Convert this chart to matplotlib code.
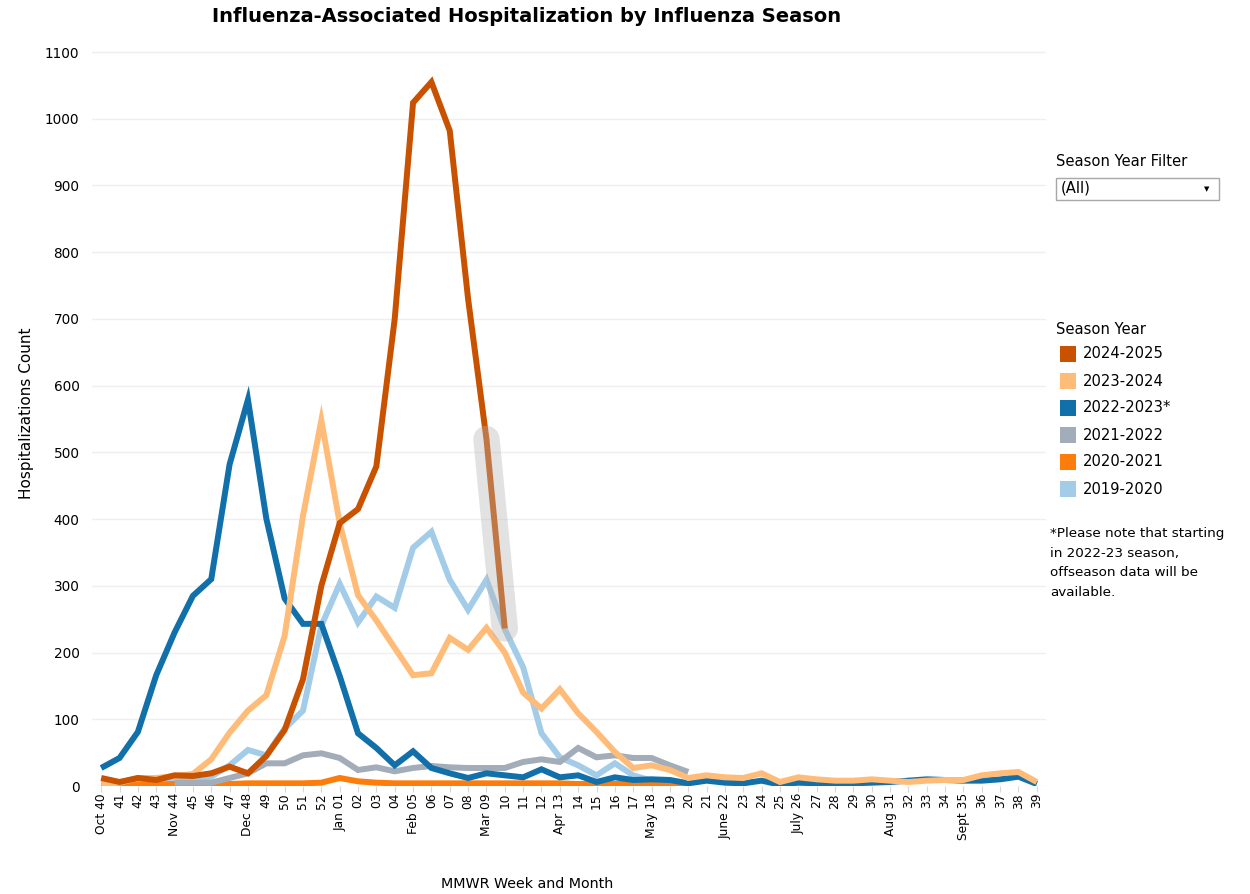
import numpy as np
import matplotlib
matplotlib.use("Agg")
import matplotlib.pyplot as plt
from matplotlib.patches import Rectangle

plt.rcParams['font.family'] = ['DejaVu Sans']

nan = np.nan

week_labels = ["Oct 40", "41", "42", "43", "Nov 44", "45", "46", "47", "Dec 48", "49",
               "50", "51", "52", "Jan 01", "02", "03", "04", "Feb 05", "06", "07",
               "08", "Mar 09", "10", "11", "12", "Apr 13", "14", "15", "16", "17",
               "May 18", "19", "20", "21", "June 22", "23", "24", "25", "July 26", "27",
               "28", "29", "30", "Aug 31", "32", "33", "34", "Sept 35", "36", "37",
               "38", "39"]

seasons = ["2024-2025", "2023-2024", "2022-2023*", "2021-2022", "2020-2021", "2019-2020"]
colors = ["#C85200", "#FFBC79", "#1170AA", "#A3ACB9", "#FC7D0B", "#A3CCE9"]

s2425 = [12, 6, 12, 9, 16, 15, 19, 29, 19, 45, 84, 160, 300, 394, 415, 479, 700, 1024,
         1055, 982, 730, 520, 236] + [nan] * 29
s2324 = [3, 5, 12, 12, 15, 18, 40, 80, 113, 136, 225, 405, 548, 394, 286, 248, 207, 166,
         169, 222, 204, 237, 200, 140, 116, 145, 109, 81, 51, 27, 31, 24, 12,
         16, 13, 12, 19, 6, 13, 10, 8, 8, 10, 8, 6, 8, 9, 9, 16, 19, 21, 6]
s2223 = [27, 42, 81, 166, 230, 285, 310, 482, 579, 401, 281, 243, 243, 165, 79, 57, 31, 52,
         27, 19, 12, 19, 16, 13, 25, 13, 16, 6, 13, 9, 10, 9, 4,
         8, 5, 4, 8, 2, 5, 4, 3, 4, 5, 6, 8, 10, 9, 8, 8, 10, 14, 3]
s2122 = [nan] * 4 + [5, 5, 5, 12, 19, 34, 34, 46, 49, 42, 24, 28, 22, 27, 30, 28, 27, 27,
                     27, 36, 40, 36, 57, 43, 46, 42, 42, 31, 21] + [nan] * 19
s2021 = [2, 2, 2, 2, 3, 3, 3, 3, 4, 4, 4, 4, 5, 12, 7, 5, 4, 4, 4, 4, 4, 4, 4, 4, 4, 4,
         3, 3, 3, 3, 3, 3, 3] + [nan] * 19
s1920 = [3, 3, 5, 6, 8, 10, 14, 31, 54, 46, 86, 113, 240, 303, 245, 284, 267, 357, 381,
         309, 264, 309, 235, 178, 79, 43, 31, 16, 34, 16, 8] + [nan] * 21

series = [s2425, s2324, s2223, s2122, s2021, s1920]

W, H = 1250, 894
fig = plt.figure(figsize=(W / 100, H / 100), dpi=100)
ax = fig.add_axes([92 / W, 1 - 786 / H, (1046 - 92) / W, (786 - 42) / H])

x = np.arange(len(week_labels))
for i in range(len(series) - 1, -1, -1):
    ax.plot(x, series[i], color=colors[i], lw=4.3, solid_joinstyle='miter',
            solid_capstyle='butt', zorder=3 + (len(series) - i))

# hover highlight on last segment of current season
hx = x[21:23]
hy = np.array(s2425[21:23])
ax.plot(hx, hy, color="#b4b4b4", lw=19, alpha=0.38, solid_capstyle='round', zorder=20)

ax.set_xlim(-0.5, len(week_labels) - 0.5)
ax.set_ylim(0, 1115)
ax.set_yticks(np.arange(0, 1101, 100))
ax.set_yticklabels([str(v) for v in range(0, 1101, 100)])
ax.grid(axis='y', color='#efefef', lw=1)
ax.set_axisbelow(True)
for sp in ax.spines.values():
    sp.set_visible(False)
ax.tick_params(axis='y', length=0, pad=9, labelsize=9.8, labelcolor='black')
ax.set_xticks(x)
ax.set_xticklabels(week_labels, rotation=90, fontsize=8.8, va='top', ha='center')
ax.tick_params(axis='x', length=4, color='#d8d8d8', pad=1)

fig.text(527 / W, 1 - 17 / H, "Influenza-Associated Hospitalization by Influenza Season",
         ha='center', va='center', fontsize=14, fontweight='bold')
fig.text(27 / W, 1 - 413 / H, "Hospitalizations Count", rotation=90, ha='center',
         va='center', fontsize=11)
fig.text(527 / W, 1 - 884 / H, "MMWR Week and Month", ha='center', va='center', fontsize=10.3)

# filter widget
fig.text(1056 / W, 1 - 162 / H, "Season Year Filter", ha='left', va='center', fontsize=10.6)
fig.patches.append(Rectangle((1056 / W, 1 - 200 / H), (1219 - 1056) / W, 22 / H,
                             transform=fig.transFigure, fill=False, edgecolor='#a8a8a8',
                             lw=1))
fig.text(1061 / W, 1 - 188 / H, "(All)", ha='left', va='center', fontsize=10.6)
fig.text(1207 / W, 1 - 189 / H, "\u25BC", ha='center', va='center', fontsize=5)

# legend
fig.text(1056 / W, 1 - 329 / H, "Season Year", ha='left', va='center', fontsize=10.6)
for i, (lab, c) in enumerate(zip(seasons, colors)):
    yc = 354 + 27 * i
    fig.patches.append(Rectangle((1060 / W, 1 - (yc + 8) / H), 16 / W, 16 / H,
                                 transform=fig.transFigure, color=c, lw=0))
    fig.text(1083 / W, 1 - yc / H, lab, ha='left', va='center', fontsize=10.6)

note = ["*Please note that starting", "in 2022-23 season,", "offseason data will be",
        "available."]
for j, line in enumerate(note):
    fig.text(1050 / W, 1 - (533 + 20 * j) / H, line, ha='left', va='center', fontsize=9.7)

fig.savefig("out.png", dpi=100)
